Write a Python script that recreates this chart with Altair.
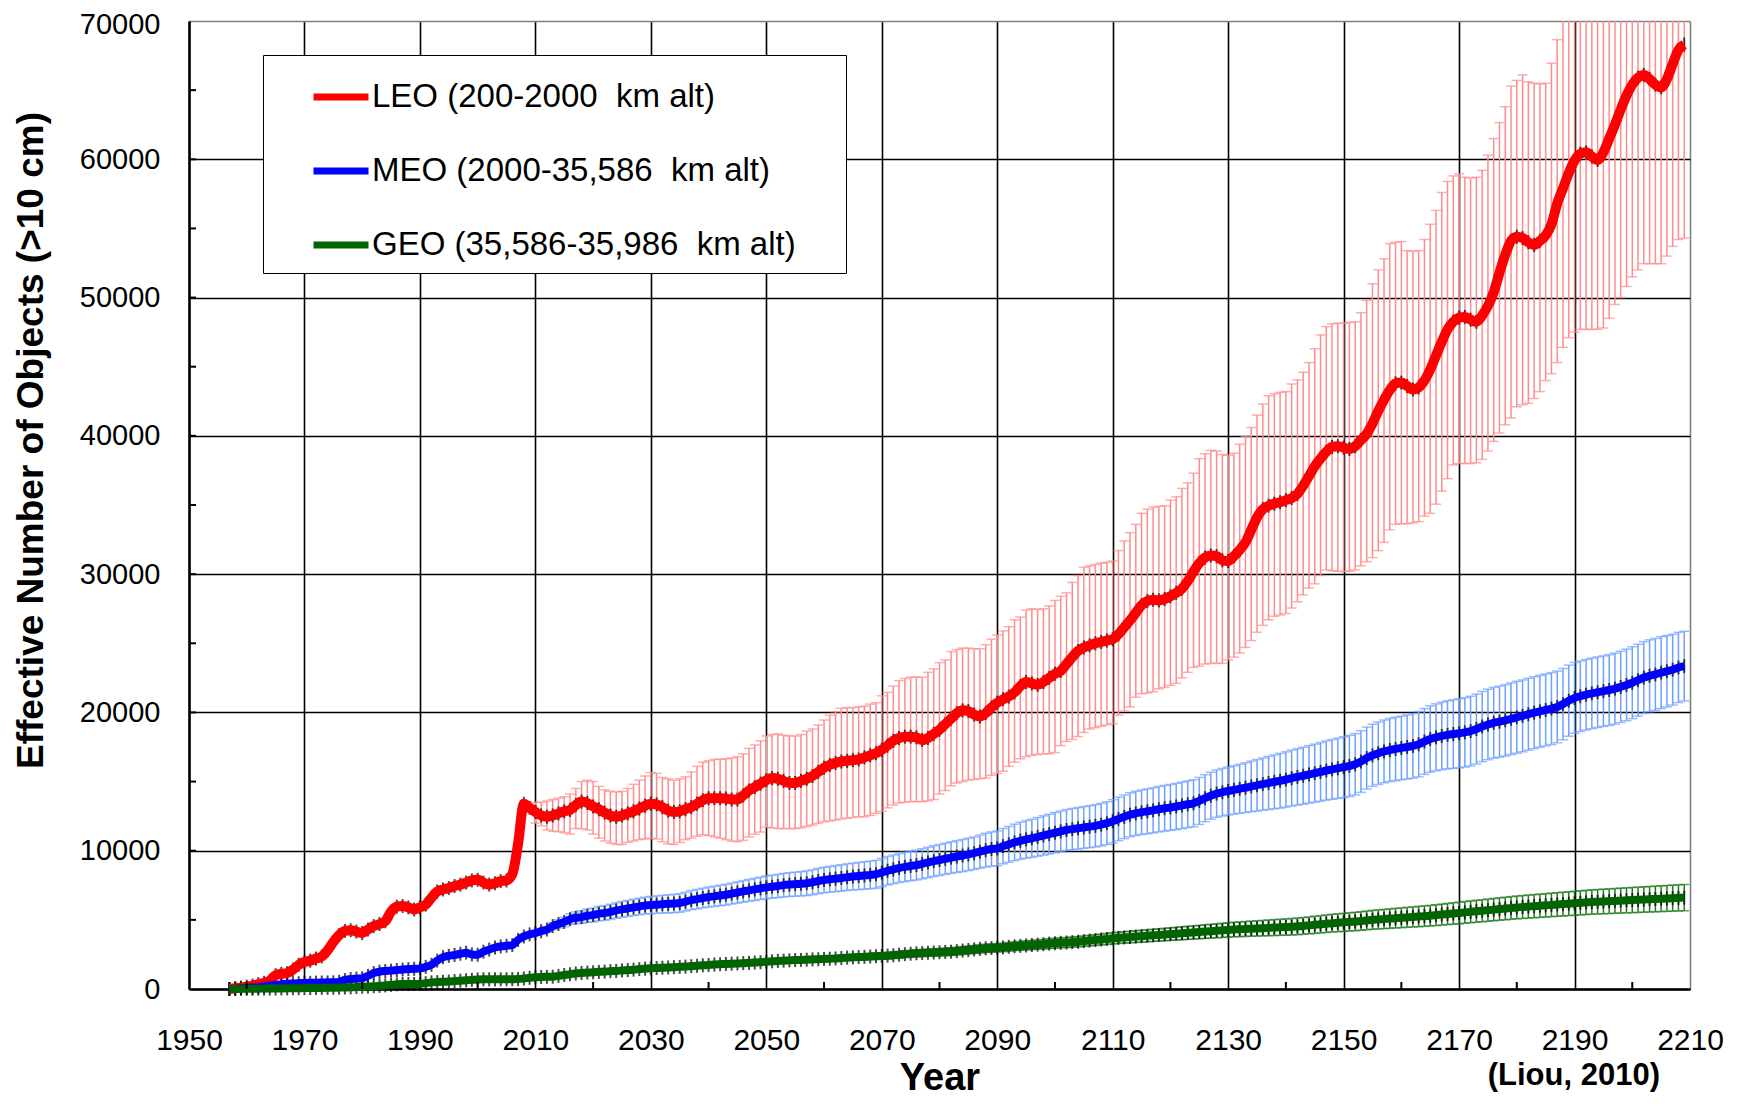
import altair as alt
import pandas as pd

FONT = "Liberation Sans"

YEARS = list(range(1957, 2210))
ERR_YEARS = list(range(2010, 2210))

LEO = [
    0, 50, 100, 170, 250, 350, 450, 600, 1000, 1100,
    1150, 1400, 1750, 1950, 2050, 2200, 2350, 2800, 3400, 3900,
    4200, 4250, 4150, 4050, 4300, 4550, 4700, 4900, 5600, 5950,
    6000, 5900, 5750, 5900, 6100, 6600, 7050, 7200, 7300, 7450,
    7550, 7700, 7850, 7900, 7700, 7550, 7650, 7800, 7850, 8300,
    10500, 13400, 13100, 12800, 12550, 12450, 12550, 12700, 12850, 12950,
    13300, 13550, 13450, 13200, 13000, 12750, 12550, 12450, 12550, 12700,
    12850, 13050, 13250, 13400, 13350, 13150, 12900, 12800, 12850, 13000,
    13150, 13400, 13650, 13800, 13800, 13800, 13780, 13700, 13700, 14000,
    14350, 14600, 14850, 15100, 15250, 15200, 15050, 14900, 14900, 15050,
    15200, 15400, 15700, 16000, 16200, 16350, 16450, 16500, 16550, 16600,
    16750, 16900, 17050, 17300, 17600, 17950, 18150, 18250, 18250, 18200,
    18000, 18150, 18450, 18750, 19150, 19550, 19950, 20150, 20100, 19850,
    19700, 19950, 20350, 20700, 20950, 21150, 21450, 21900, 22200, 22100,
    22000, 22200, 22500, 22800, 23000, 23500, 24000, 24450, 24700, 24850,
    25000, 25100, 25200, 25300, 25650, 26150, 26650, 27200, 27750, 28050,
    28150, 28100, 28200, 28400, 28650, 28950, 29500, 30200, 30800, 31200,
    31350, 31300, 31000, 30950, 31300, 31750, 32300, 33200, 34100, 34700,
    34950, 35100, 35200, 35350, 35500, 35800, 36400, 37100, 37800, 38350,
    38850, 39200, 39250, 39150, 39050, 39250, 39700, 40150, 40900, 41800,
    42600, 43300, 43800, 43850, 43600, 43350, 43500, 44000, 44800, 45800,
    46800, 47700, 48250, 48550, 48600, 48400, 48250, 48700, 49400, 50400,
    51800, 53100, 54100, 54400, 54300, 54000, 53800, 54100, 54500, 55300,
    56800, 57900, 59000, 59900, 60400, 60500, 60200, 59950, 60500, 61500,
    62500, 63600, 64600, 65400, 65900, 66100, 65800, 65400, 65200, 65800,
    66900, 67900, 68300,
]

LEO_HI = [
    13500, 13500, 13600, 13700, 13800, 13900, 14100, 14500, 15000, 15100,
    15000, 14650, 14400, 14300, 14250, 14300, 14500, 14800, 15100, 15400,
    15650, 15600, 15300, 15200, 15100, 15200, 15350, 15700, 16100, 16400,
    16500, 16600, 16620, 16650, 16700, 16800, 17000, 17400, 17650, 17950,
    18300, 18400, 18450, 18350, 18300, 18300, 18400, 18650, 18800, 19100,
    19450, 19800, 20050, 20300, 20350, 20350, 20400, 20450, 20600, 20700,
    21200, 21450, 21900, 22300, 22450, 22550, 22550, 22550, 22900, 23150,
    23600, 23800, 24400, 24550, 24650, 24650, 24600, 24600, 24900, 25300,
    25600, 25900, 26200, 26700, 26900, 27400, 27500, 27450, 27500, 27700,
    28100, 28400, 28650, 29400, 29900, 30500, 30600, 30700, 30800, 30850,
    30950, 31700, 32400, 33000, 33600, 34400, 34700, 34850, 34900, 34950,
    35350, 35600, 36200, 36600, 37300, 38350, 38700, 38950, 38900, 38650,
    38600, 38750, 39400, 39950, 40600, 41500, 42300, 42900, 43050, 43150,
    43200, 43750, 44050, 44600, 45300, 46300, 47300, 47900, 48100, 48150,
    48150, 48200, 48250, 48900, 49800, 51000, 52000, 52800, 53900, 54000,
    54050, 53400, 53350, 53400, 54200, 55300, 56300, 57600, 58400, 58800,
    58950, 58700, 58650, 58700, 59200, 60300, 61500, 62650, 63800, 65300,
    65700, 66100, 65600, 65500, 65450, 65500, 66950, 68650, 70800, 72000,
    73000, 73800, 74300, 74500, 74800, 75500, 76500, 77500, 78500, 79500,
    80500, 81000, 81300, 81200, 81000, 81000, 81800, 83000, 84000, 84500,
]

LEO_LO = [
    12000, 11800, 11500, 11400, 11380, 11300, 11200, 11600, 11600, 11500,
    11200, 10900, 10700, 10550, 10450, 10450, 10600, 10700, 10800, 10850,
    10900, 10850, 10650, 10500, 10450, 10600, 10800, 10900, 11050, 11150,
    11100, 11000, 10900, 10800, 10700, 10650, 10750, 11000, 11200, 11350,
    11700, 11650, 11600, 11600, 11600, 11600, 11650, 11750, 11850, 11980,
    12100, 12150, 12220, 12300, 12350, 12400, 12450, 12450, 12550, 12700,
    12850, 13100, 13300, 13450, 13500, 13550, 13550, 13550, 13600, 13700,
    14100, 14350, 14700, 14900, 15000, 15100, 15150, 15200, 15250, 15450,
    15600, 15750, 16100, 16400, 16650, 16800, 16900, 16950, 17000, 17000,
    17100, 17600, 17900, 18050, 18250, 18550, 18800, 18900, 19000, 19100,
    19200, 19800, 20100, 20400, 21100, 21350, 21400, 21500, 21700, 21800,
    21950, 22100, 22500, 22900, 23250, 23350, 23500, 23550, 23550, 23550,
    23800, 24000, 24300, 24700, 25200, 25800, 26300, 26700, 26950, 27050,
    27150, 27550, 28000, 28500, 29000, 29300, 29900, 30300, 30250, 30200,
    30200, 30200, 30300, 30600, 30900, 31200, 31700, 32300, 33200, 33600,
    33650, 33650, 33700, 33800, 34200, 34400, 35060, 36000, 36900, 37900,
    38000, 38000, 38000, 38050, 38300, 38900, 39600, 40200, 40800, 41300,
    42100, 42250, 42350, 42700, 43200, 44000, 44500, 45300, 46400, 47100,
    47500, 47700, 47700, 47700, 47700, 47800, 48500, 49500, 50000, 50800,
    51500, 52000, 52450, 52450, 52450, 52450, 53000, 53700, 54200, 54300,
]

MEO = [
    0, 20, 50, 80, 100, 130, 180, 250, 300, 350,
    380, 400, 420, 440, 450, 460, 470, 480, 480, 520,
    650, 720, 750, 780, 950, 1150, 1250, 1300, 1330, 1370,
    1410, 1440, 1460, 1490, 1600, 1750, 2050, 2300, 2400, 2460,
    2550, 2630, 2500, 2480, 2700, 2850, 3000, 3080, 3130, 3180,
    3550, 3800, 3950, 4050, 4180, 4300, 4550, 4700, 4850, 5050,
    5150, 5200, 5300, 5350, 5450, 5500, 5580, 5680, 5760, 5830,
    5900, 5970, 6030, 6070, 6100, 6130, 6160, 6180, 6220, 6320,
    6430, 6500, 6580, 6650, 6700, 6760, 6820, 6900, 6980, 7060,
    7130, 7200, 7280, 7350, 7400, 7450, 7510, 7550, 7580, 7610,
    7650, 7720, 7810, 7880, 7930, 7980, 8030, 8090, 8130, 8170,
    8210, 8250, 8300, 8420, 8550, 8650, 8750, 8830, 8900, 8960,
    9050, 9150, 9250, 9330, 9420, 9500, 9580, 9650, 9730, 9820,
    9930, 10040, 10120, 10170, 10330, 10460, 10600, 10720, 10820, 10900,
    11000, 11100, 11200, 11300, 11400, 11500, 11560, 11620, 11680, 11740,
    11800, 11880, 11990, 12130, 12300, 12450, 12600, 12700, 12780, 12850,
    12920, 13000, 13070, 13130, 13200, 13280, 13360, 13430, 13600, 13800,
    13980, 14130, 14230, 14320, 14400, 14480, 14560, 14650, 14730, 14820,
    14900, 14980, 15060, 15150, 15250, 15340, 15420, 15520, 15610, 15700,
    15800, 15880, 15960, 16040, 16130, 16250, 16450, 16700, 16900, 17050,
    17180, 17280, 17360, 17430, 17500, 17580, 17700, 17900, 18080, 18200,
    18300, 18380, 18440, 18490, 18560, 18650, 18800, 18980, 19130, 19250,
    19330, 19430, 19540, 19650, 19750, 19870, 19980, 20080, 20180, 20280,
    20400, 20600, 20850, 21050, 21170, 21280, 21380, 21460, 21540, 21620,
    21720, 21850, 21990, 22150, 22330, 22520, 22650, 22750, 22880, 22980,
    23090, 23250, 23350,
]

MEO_ERR = [
    100, 150, 200, 250, 300, 340, 380, 420, 450, 480,
    500, 520, 530, 550, 560, 570, 580, 590, 600, 610,
    620, 630, 640, 650, 660, 670, 680, 690, 700, 710,
    720, 730, 740, 750, 760, 770, 780, 790, 800, 810,
    820, 830, 840, 850, 860, 870, 880, 890, 900, 910,
    920, 930, 940, 950, 960, 970, 980, 990, 1000, 1010,
    1020, 1030, 1040, 1050, 1060, 1070, 1080, 1090, 1100, 1110,
    1120, 1130, 1140, 1150, 1160, 1170, 1180, 1200, 1220, 1240,
    1260, 1280, 1300, 1320, 1340, 1360, 1380, 1400, 1420, 1440,
    1460, 1470, 1480, 1490, 1500, 1510, 1520, 1530, 1540, 1550,
    1560, 1570, 1580, 1590, 1600, 1610, 1620, 1630, 1640, 1650,
    1660, 1670, 1680, 1690, 1700, 1700, 1700, 1700, 1710, 1720,
    1730, 1750, 1770, 1800, 1830, 1860, 1890, 1920, 1950, 1980,
    2000, 2020, 2040, 2060, 2080, 2100, 2120, 2140, 2160, 2180,
    2200, 2210, 2220, 2230, 2240, 2250, 2260, 2270, 2280, 2290,
    2300, 2320, 2340, 2360, 2380, 2400, 2420, 2440, 2460, 2480,
    2500, 2510, 2520, 2530, 2540, 2550, 2560, 2570, 2580, 2590,
    2600, 2600, 2600, 2600, 2600, 2600, 2600, 2590, 2580, 2570,
    2560, 2550, 2550, 2550, 2550, 2550, 2560, 2570, 2580, 2590,
    2600, 2600, 2600, 2600, 2600, 2600, 2580, 2560, 2540, 2520,
]

GEO = [
    0, 5, 10, 15, 20, 25, 30, 35, 40, 45,
    50, 55, 60, 65, 70, 75, 80, 85, 90, 100,
    110, 120, 140, 160, 180, 200, 230, 260, 300, 340,
    360, 360, 360, 370, 420, 480, 500, 520, 540, 570,
    600, 630, 660, 690, 700, 700, 700, 700, 705, 710,
    720, 760, 810, 850, 870, 880, 890, 950, 1010, 1070,
    1120, 1160, 1190, 1210, 1240, 1260, 1290, 1310, 1340, 1370,
    1400, 1440, 1470, 1500, 1520, 1540, 1560, 1580, 1600, 1620,
    1650, 1680, 1710, 1740, 1770, 1790, 1810, 1830, 1850, 1870,
    1890, 1910, 1940, 1970, 2000, 2030, 2050, 2070, 2090, 2100,
    2120, 2140, 2150, 2170, 2190, 2210, 2240, 2270, 2290, 2310,
    2330, 2350, 2370, 2390, 2410, 2440, 2480, 2520, 2550, 2580,
    2600, 2620, 2640, 2660, 2680, 2700, 2740, 2780, 2820, 2860,
    2900, 2940, 2960, 2980, 3010, 3050, 3090, 3120, 3150, 3180,
    3210, 3240, 3280, 3310, 3340, 3360, 3390, 3420, 3460, 3500,
    3540, 3580, 3620, 3660, 3700, 3730, 3760, 3790, 3820, 3850,
    3880, 3910, 3940, 3970, 4000, 4030, 4060, 4090, 4120, 4150,
    4180, 4210, 4240, 4270, 4300, 4320, 4340, 4360, 4380, 4400,
    4420, 4440, 4460, 4480, 4500, 4530, 4560, 4600, 4640, 4680,
    4720, 4760, 4790, 4820, 4850, 4880, 4920, 4960, 5000, 5030,
    5060, 5090, 5120, 5150, 5180, 5210, 5240, 5270, 5300, 5340,
    5380, 5420, 5460, 5500, 5540, 5580, 5620, 5660, 5700, 5740,
    5780, 5820, 5860, 5900, 5930, 5960, 5990, 6020, 6050, 6080,
    6110, 6140, 6170, 6200, 6230, 6260, 6290, 6310, 6330, 6350,
    6370, 6390, 6410, 6430, 6450, 6470, 6490, 6510, 6530, 6550,
    6570, 6590, 6610,
]

GEO_ERR = [
    20, 25, 30, 35, 40, 45, 50, 55, 60, 65,
    70, 72, 75, 78, 80, 83, 86, 90, 93, 96,
    100, 103, 106, 110, 113, 116, 120, 123, 126, 130,
    132, 134, 136, 138, 140, 142, 144, 146, 148, 150,
    154, 158, 161, 165, 169, 172, 176, 180, 184, 187,
    191, 195, 199, 202, 206, 210, 214, 217, 221, 225,
    229, 232, 236, 240, 244, 247, 251, 255, 259, 262,
    266, 270, 274, 277, 281, 285, 289, 292, 296, 300,
    300, 305, 310, 315, 320, 325, 330, 335, 340, 345,
    350, 355, 360, 365, 370, 375, 380, 385, 390, 395,
    400, 405, 410, 415, 420, 425, 430, 435, 440, 445,
    450, 457, 464, 471, 478, 485, 492, 498, 505, 512,
    519, 526, 533, 540, 546, 553, 560, 567, 574, 581,
    588, 594, 600, 606, 612, 619, 625, 632, 638, 644,
    650, 657, 663, 670, 676, 682, 689, 695, 702, 708,
    714, 721, 727, 734, 740, 746, 753, 759, 766, 772,
    780, 784, 789, 793, 797, 802, 806, 810, 815, 819,
    823, 828, 832, 836, 841, 845, 849, 854, 858, 862,
    867, 871, 875, 880, 884, 888, 893, 897, 901, 906,
    910, 914, 919, 923, 927, 932, 936, 940, 945, 950,
]

SERIES = [
    "LEO (200-2000\u00a0 km alt)",
    "MEO (2000-35,586\u00a0 km alt)",
    "GEO (35,586-35,986\u00a0 km alt)",
]
LINE_COLORS = ["#ff0000", "#0000ff", "#006400"]
LINE_WIDTHS = [10, 8, 8]
ERR_COLORS = ["#ff8c8c", "#6fa0ff", "#1e7b1e"]

X_TICKS = [1950, 1970, 1990, 2010, 2030, 2050, 2070, 2090, 2110, 2130, 2150, 2170, 2190, 2210]
Y_TICKS = [0, 10000, 20000, 30000, 40000, 50000, 60000, 70000]
X_MINOR = [1960, 1980, 2000, 2020, 2040, 2060, 2080, 2100, 2120, 2140, 2160, 2180, 2200]
Y_MINOR = [5000, 10000, 15000, 20000, 25000, 30000, 35000, 40000, 45000, 50000, 55000, 60000, 65000]

assert len(LEO) == len(YEARS) and len(MEO) == len(YEARS) and len(GEO) == len(YEARS)
assert len(LEO_LO) == len(ERR_YEARS) and len(LEO_HI) == len(ERR_YEARS)
assert len(MEO_ERR) == len(ERR_YEARS) and len(GEO_ERR) == len(ERR_YEARS)

k = len(YEARS) - len(ERR_YEARS)
MEO_LO = [m - e for m, e in zip(MEO[k:], MEO_ERR)]
MEO_HI = [m + e for m, e in zip(MEO[k:], MEO_ERR)]
GEO_LO = [g - e for g, e in zip(GEO[k:], GEO_ERR)]
GEO_HI = [g + e for g, e in zip(GEO[k:], GEO_ERR)]

series_frames = [
    pd.DataFrame({"year": YEARS, "series": s, "value": v})
    for s, v in zip(SERIES, [LEO, MEO, GEO])
]
all_lines = pd.concat(series_frames, ignore_index=True)
err_frames = [
    pd.DataFrame({"year": ERR_YEARS, "lo": LEO_LO, "hi": LEO_HI}),
    pd.DataFrame({"year": ERR_YEARS, "lo": MEO_LO, "hi": MEO_HI}),
    pd.DataFrame({"year": ERR_YEARS, "lo": GEO_LO, "hi": GEO_HI}),
]

xscale = alt.Scale(domain=[1950, 2210], nice=False, zero=False)
yscale = alt.Scale(domain=[0, 70000], nice=False)

xaxis = alt.Axis(
    values=X_TICKS, format="d", grid=True,
    gridColor={"condition": {"test": "datum.value >= 2210", "value": "#808080"}, "value": "#000000"},
    gridWidth=1.6, ticks=False, domainColor="#000000", domainWidth=2.5,
    labelFont=FONT, labelFontSize=30, labelColor="#000000", labelPadding=36,
    labelFlush=False, labelOverlap=False,
    title="Year", titleFont=FONT, titleFontSize=38, titleFontWeight="bold",
    titleColor="#000000", titleY=89, titleBaseline="middle",
)
yaxis = alt.Axis(
    values=Y_TICKS, format="d", grid=True,
    gridColor={"condition": {"test": "datum.value >= 70000", "value": "#808080"}, "value": "#000000"},
    gridWidth=1.6, ticks=False, domainColor="#000000", domainWidth=2.5,
    labelFont=FONT, labelFontSize=29, labelColor="#000000", labelPadding=29,
    labelFlush=False, labelOverlap=False,
    labelOffset={"condition": {"test": "datum.value >= 70000", "value": 3}, "value": 0},
    title="Effective Number of Objects (>10 cm)", titleFont=FONT, titleFontSize=37,
    titleFontWeight="bold", titleColor="#000000", titleAngle=270,
    titleX=-158, titleY=419, titleAlign="center", titleBaseline="middle",
)

X = alt.X("year:Q", scale=xscale, axis=xaxis)
Y = alt.Y("value:Q", scale=yscale, axis=yaxis)

layers = []
for df, col in zip(err_frames, ERR_COLORS):
    base = alt.Chart(df)
    layers.append(base.mark_rule(color=col, strokeWidth=1.5, clip=True).encode(
        x=X, y=alt.Y("lo:Q", scale=yscale, axis=yaxis), y2="hi:Q"))
    layers.append(base.mark_tick(orient="horizontal", color=col, size=10, thickness=1.5, clip=True).encode(
        x=X, y=alt.Y("lo:Q", scale=yscale, axis=yaxis)))
    layers.append(base.mark_tick(orient="horizontal", color=col, size=10, thickness=1.5, clip=True).encode(
        x=X, y=alt.Y("hi:Q", scale=yscale, axis=yaxis)))

layers.append(
    alt.Chart(all_lines).mark_tick(orient="vertical", color="#000000", size=14, thickness=2).encode(x=X, y=Y)
)

legend = alt.Legend(
    title="I", titleColor="#ffffff", titleOrient="right", titlePadding=36,
    titleFontSize=10, titleFont=FONT,
    orient="none", legendX=74, legendY=34, direction="vertical",
    symbolType="stroke", symbolSize=3025, symbolStrokeWidth=7,
    labelFont=FONT, labelFontSize=33, labelColor="#000000", labelLimit=2000,
    labelOffset=0, rowPadding=26, padding=11, symbolOffset=36,
    strokeColor="#000000", fillColor="#ffffff",
)
color = alt.Color("series:N", scale=alt.Scale(domain=SERIES, range=LINE_COLORS), legend=legend)

for df, w in zip(series_frames, LINE_WIDTHS):
    layers.append(
        alt.Chart(df).mark_line(interpolate="monotone", strokeWidth=w).encode(x=X, y=Y, color=color)
    )

layers.append(
    alt.Chart(pd.DataFrame({"v": Y_MINOR})).mark_rule(color="#000000", strokeWidth=2).encode(
        y=alt.Y("v:Q", scale=yscale, axis=yaxis), x=alt.value(0), x2=alt.value(7))
)
layers.append(
    alt.Chart(pd.DataFrame({"v": X_MINOR})).mark_rule(color="#000000", strokeWidth=2).encode(
        x=alt.X("v:Q", scale=xscale, axis=xaxis), y=alt.value(968), y2=alt.value(961))
)

chart = alt.layer(*layers).properties(
    width=1501, height=968,
    padding={"left": 181, "top": 13, "right": 38, "bottom": 109},
    autosize=alt.AutoSizeParams(type="none"),
    title=alt.TitleParams(
        text="(Liou, 2010)", orient="bottom", anchor="end", frame="group",
        font=FONT, fontSize=31, fontWeight="bold", color="#000000",
        offset=-36, dx=-30,
    ),
).configure_view(stroke="#808080", strokeWidth=2.5).configure_legend(
    strokeWidth=1.5
).configure(background="#ffffff")

chart.save("out.html", embed_options={"renderer": "svg", "actions": False})
